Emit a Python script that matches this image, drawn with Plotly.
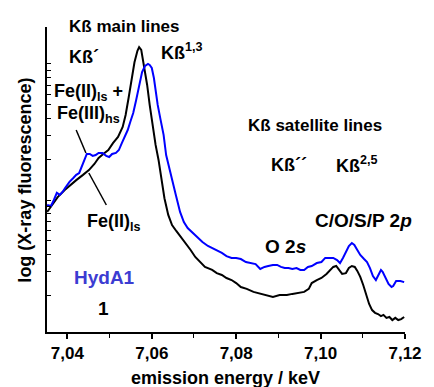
import plotly.graph_objects as go

# Emission energy (keV) and fluorescence intensity (a.u., log axis)
energy_1 = [7.0352, 7.0363, 7.0377, 7.0393, 7.0409, 7.0421, 7.0437, 7.0451, 7.0464, 7.0474,
            7.0485, 7.0497, 7.0508, 7.0520, 7.0531, 7.0538, 7.0545, 7.0552, 7.0559, 7.0566,
            7.0570, 7.0575, 7.0582, 7.0589, 7.0595, 7.0602, 7.0609, 7.0616, 7.0623, 7.0630,
            7.0639, 7.0648, 7.0658, 7.0669, 7.0681, 7.0692, 7.0703, 7.0715, 7.0726, 7.0743,
            7.0754, 7.0766, 7.0777, 7.0789, 7.0800, 7.0811, 7.0825, 7.0841, 7.0857, 7.0874,
            7.0887, 7.0903, 7.0920, 7.0933, 7.0949, 7.0961, 7.0972, 7.0979, 7.0991, 7.1002,
            7.1014, 7.1023, 7.1030, 7.1037, 7.1044, 7.1051, 7.1060, 7.1067, 7.1074, 7.1081,
            7.1087, 7.1094, 7.1101, 7.1108, 7.1115, 7.1122, 7.1129, 7.1136, 7.1143, 7.1149,
            7.1156, 7.1163, 7.1170, 7.1177, 7.1184, 7.1191, 7.1198]
intensity_1 = [8.17, 9.2, 10.5, 11.8, 13.1, 14.0, 15.3, 16.6, 18.4, 20.4,
               21.8, 23.3, 26.2, 29.1, 34.4, 42.2, 56.2, 76.3, 103, 125,
               133, 127, 96.7, 70.1, 50.0, 35.6, 25.4, 19.7, 14.5, 10.3,
               7.76, 6.55, 5.92, 5.35, 4.83, 4.29, 3.81, 3.50, 3.22, 3.06,
               2.90, 2.81, 2.67, 2.58, 2.45, 2.29, 2.22, 2.11, 2.04, 1.97,
               1.94, 2.00, 2.00, 2.04, 2.07, 2.11, 2.22, 2.45, 2.58, 2.67,
               2.86, 3.06, 3.22, 3.27, 3.06, 2.86, 2.90, 3.16, 3.27, 3.22,
               3.01, 2.72, 2.37, 2.00, 1.72, 1.55, 1.48, 1.45, 1.40, 1.43,
               1.36, 1.38, 1.31, 1.36, 1.31, 1.33, 1.38]

energy_hyda1 = [7.0352, 7.0361, 7.0368, 7.0375, 7.0382, 7.0389, 7.0395, 7.0405, 7.0414, 7.0421,
                7.0428, 7.0434, 7.0441, 7.0446, 7.0453, 7.0460, 7.0467, 7.0474, 7.0483, 7.0492,
                7.0499, 7.0506, 7.0515, 7.0522, 7.0529, 7.0536, 7.0543, 7.0549, 7.0556, 7.0563,
                7.0570, 7.0577, 7.0584, 7.0591, 7.0595, 7.0600, 7.0605, 7.0609, 7.0614, 7.0621,
                7.0628, 7.0634, 7.0641, 7.0648, 7.0657, 7.0667, 7.0676, 7.0685, 7.0697, 7.0708,
                7.0720, 7.0733, 7.0743, 7.0754, 7.0766, 7.0777, 7.0789, 7.0800, 7.0811, 7.0823,
                7.0834, 7.0846, 7.0857, 7.0867, 7.0876, 7.0887, 7.0897, 7.0906, 7.0915, 7.0924,
                7.0933, 7.0943, 7.0952, 7.0961, 7.0970, 7.0979, 7.0991, 7.1002, 7.1011, 7.1021,
                7.1030, 7.1039, 7.1046, 7.1053, 7.1060, 7.1067, 7.1074, 7.1080, 7.1087, 7.1094,
                7.1103, 7.1110, 7.1117, 7.1124, 7.1131, 7.1138, 7.1143, 7.1147, 7.1154, 7.1161,
                7.1168, 7.1172, 7.1179, 7.1189, 7.1198]
intensity_hyda1 = [9.19, 9.03, 10.0, 11.3, 10.9, 11.5, 12.3, 13.6, 14.5, 15.3,
                   15.8, 17.8, 20.4, 21.8, 21.8, 21.1, 21.4, 22.2, 22.2, 21.1,
                   20.7, 21.8, 22.2, 23.3, 26.2, 29.1, 32.7, 37.5, 43.6, 54.4,
                   70.1, 87.3, 96.7, 100, 98.4, 93.5, 78.9, 62.3, 50.0, 38.7,
                   30.1, 21.4, 17.2, 14.0, 10.9, 8.17, 6.89, 6.22, 5.72, 5.26,
                   4.91, 4.59, 4.44, 4.29, 4.08, 3.87, 3.75, 3.75, 3.68, 3.50,
                   3.44, 3.38, 3.11, 3.22, 3.27, 3.33, 3.33, 3.22, 3.16, 3.16,
                   3.11, 3.16, 3.06, 3.06, 3.22, 3.27, 3.44, 3.50, 3.75, 3.75,
                   3.75, 3.62, 3.44, 3.75, 4.15, 4.59, 4.83, 4.67, 4.29, 3.94,
                   3.68, 3.50, 3.16, 2.76, 2.58, 2.81, 3.06, 2.96, 2.67, 2.41,
                   2.29, 2.33, 2.54, 2.54, 2.49]

x_ticks = [7.04, 7.06, 7.08, 7.10, 7.12]

FONT = "Liberation Sans, Arial, sans-serif"
W, H = 434, 387
ML, MR, MT, MB = 47, 19, 27, 55
PW, PH = W - ML - MR, H - MT - MB


def px(xp):
    return (xp - ML) / PW


def py(yp):
    return (H - MB - yp) / PH


fig = go.Figure()
fig.add_trace(go.Scatter(x=energy_1, y=intensity_1, mode="lines",
                         line=dict(color="black", width=2), showlegend=False))
fig.add_trace(go.Scatter(x=energy_hyda1, y=intensity_hyda1, mode="lines",
                         line=dict(color="#0000ff", width=2), showlegend=False))

labels = [
    ("<b>Kß main lines</b>", 68, 26, 17, "black", "left", 0),
    ("<b>Kß´</b>", 68, 57, 18, "black", "left", 0),
    ("<b>Kß<sup>1,3</sup></b>", 162, 52, 18, "black", "left", 0),
    ("<b>Fe(II)<sub>ls</sub> +</b>", 52, 92, 18, "black", "left", 0),
    ("<b>Fe(III)<sub>hs</sub></b>", 55, 115, 18, "black", "left", 0),
    ("<b>Fe(II)<sub>ls</sub></b>", 86, 222, 18, "black", "left", 0),
    ("<b>HydA1</b>", 73, 277, 19, "#3c3cd2", "left", 0),
    ("<b>1</b>", 105, 308, 19, "black", "center", 0),
    ("<b>Kß satellite lines</b>", 252, 126, 17, "black", "left", 0),
    ("<b>Kß´´</b>", 275, 165, 18, "black", "left", 0),
    ("<b>Kß<sup>2,5</sup></b>", 342, 164, 18, "black", "left", 0),
    ("<b>C/O/S/P 2<i>p</i></b>", 320, 220, 19, "black", "left", 0),
    ("<b>O 2<i>s</i></b>", 269, 246, 19, "black", "left", 0),
    ("<b>emission energy / keV</b>", 230, 378, 18, "black", "center", 0),
    ("<b>log (X-ray fluorescence)</b>", 24, 180, 18, "black", "center", -90),
]
for text, xp, yp, size, color, anchor, angle in labels:
    fig.add_annotation(x=px(xp), y=py(yp), xref="paper", yref="paper", text=text,
                       showarrow=False, xanchor=anchor, yanchor="middle", textangle=angle,
                       font=dict(family=FONT, size=size, color=color))

for (x0, y0, x1, y1) in [(77, 130, 87, 153), (90, 173, 108, 205)]:
    fig.add_shape(type="line", xref="paper", yref="paper",
                  x0=px(x0), y0=py(y0), x1=px(x1), y1=py(y1),
                  line=dict(color="black", width=1.5))

fig.update_layout(
    width=W, height=H,
    margin=dict(l=ML, r=MR, t=MT, b=MB),
    paper_bgcolor="white", plot_bgcolor="white",
    separators=",.",
    font=dict(family=FONT, color="black"),
    xaxis=dict(
        range=[7.03517, 7.12], tickvals=x_ticks, tickformat=".2f",
        ticks="outside", ticklen=5, tickwidth=1.5, tickcolor="black",
        minor=dict(dtick=0.01, tick0=7.04, ticks="outside", ticklen=4, tickcolor="black", tickwidth=1.2),
        showline=True, linewidth=2, linecolor="black",
        showgrid=False, zeroline=False,
        tickfont=dict(family=FONT, size=17, color="black", weight="bold"),
    ),
    yaxis=dict(
        type="log", range=[0.0294, 2.272], dtick="D1",
        ticks="inside", ticklen=4, tickcolor="black", tickwidth=1,
        showticklabels=False,
        showline=True, linewidth=2, linecolor="black",
        showgrid=False, zeroline=False,
    ),
)

fig.write_html("out.html")
